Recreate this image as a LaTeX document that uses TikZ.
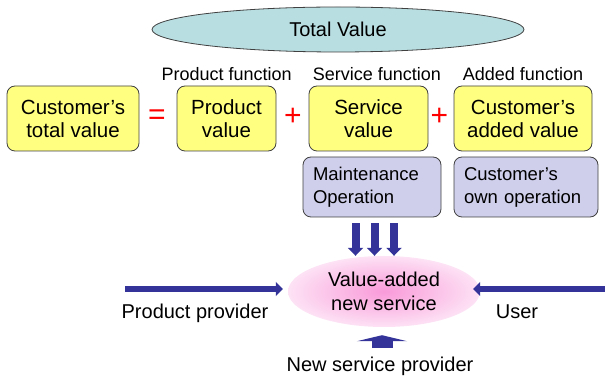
\documentclass[tikz,border=0pt]{standalone}
\usepackage{fontspec}
\setmainfont{Liberation Sans}
\usetikzlibrary{arrows.meta,shapes.geometric,calc}
\definecolor{boxyellow}{HTML}{FFFF80}
\definecolor{boxlav}{HTML}{CFCFEC}
\definecolor{topblue}{HTML}{B9DEE2}
\definecolor{arrowblue}{HTML}{333399}
\definecolor{pinkin}{HTML}{F99AD9}
\definecolor{pinkout}{HTML}{FDE2F5}
\definecolor{edgegray}{HTML}{404040}

\begin{document}
\begin{tikzpicture}[x=1pt,y=-1pt,
  valuebox/.style={draw=edgegray, line width=0.8pt, rounded corners=8pt, fill=boxyellow,
    align=center, font=\fontsize{20.5}{23}\selectfont, minimum height=65pt, inner sep=0pt},
  opbox/.style={draw=edgegray, line width=0.8pt, rounded corners=8pt, fill=boxlav,
    align=left, font=\fontsize{18.5}{23}\selectfont, minimum height=60pt,
    inner xsep=10pt, inner ysep=0pt},
  fnlabel/.style={font=\fontsize{18}{20}\selectfont, inner sep=0pt, anchor=base},
  sign/.style={text=red, font=\fontsize{30}{30}\selectfont, inner sep=0pt},
  plainlabel/.style={font=\fontsize{20}{23}\selectfont, inner sep=0pt, anchor=base},
  downarrow/.style={draw=arrowblue, line width=8pt, -{Triangle[length=8pt,width=15pt]}},
  sidearrow/.style={draw=arrowblue, line width=6.5pt, -{Triangle[length=7pt,width=14pt]}},
  uparrow/.style={draw=arrowblue, line width=21pt, -{Triangle[length=6pt,width=50pt]}}
]
\useasboundingbox (0,0) rectangle (605,379);

% overall value
\node[ellipse, draw=edgegray, line width=0.8pt, fill=topblue, minimum width=372pt,
      minimum height=45pt, inner sep=0pt, font=\fontsize{20}{23}\selectfont]
      (total) at (338,29.5) {Total Value};

% value equation
\node[valuebox, minimum width=132pt] (ctv) at (73,118.5) {Customer’s\\total value};
\node[valuebox, minimum width=99pt]  (pv)  at (226.5,118.5) {Product\\value};
\node[valuebox, minimum width=119pt] (sv)  at (368.5,118.5) {Service\\value};
\node[valuebox, minimum width=138pt] (av)  at (523,118.5) {Customer’s\\added value};

\node[sign] (eq)    at (157,117) {=};
\node[sign] (plus1) at (293,117) {+};
\node[sign] (plus2) at (439.5,117) {+};

\node[fnlabel] (pf) at (226.7,81) {Product function};
\node[fnlabel] (sf) at (377,81)   {Service function};
\node[fnlabel] (af) at (523,81)   {Added function};

% operations
\node[opbox, text width=118pt] (mo) at (372,187) {Maintenance\\Operation};
\node[opbox, text width=124pt] (co) at (526,187) {Customer’s\\own operation};

% new service
\node[ellipse, inner sep=0pt, minimum width=192pt, minimum height=71pt,
      inner color=pinkin, outer color=pinkout, font=\fontsize{20}{24}\selectfont,
      align=center] (vas) at (384,291.5) {Value-added\\new service};

% providers
\node[plainlabel] (ppl) at (195,319) {Product provider};
\node[plainlabel] (usl) at (517,319) {User};
\node[plainlabel] (nsl) at (380,371) {New service provider};

\coordinate (d1) at ($(mo.south)+(-16.5,6)$);
\coordinate (d2) at ($(mo.south)+(2.5,6)$);
\coordinate (d3) at ($(mo.south)+(22,6)$);
\draw[downarrow] (d1) -- (d1 |- vas.north);
\draw[downarrow] (d2) -- (d2 |- vas.north);
\draw[downarrow] (d3) -- (d3 |- vas.north);

\coordinate (pp) at (125,289);
\coordinate (us) at (605,289);
\draw[sidearrow, shorten >=5pt] (pp) -- (pp -| vas.west);
\draw[sidearrow, shorten >=-7pt] (us) -- (us -| vas.east);

\coordinate (ns) at (382,348);
\draw[uparrow, shorten >=8pt] (ns) -- (ns |- vas.south);
\end{tikzpicture}
\end{document}
